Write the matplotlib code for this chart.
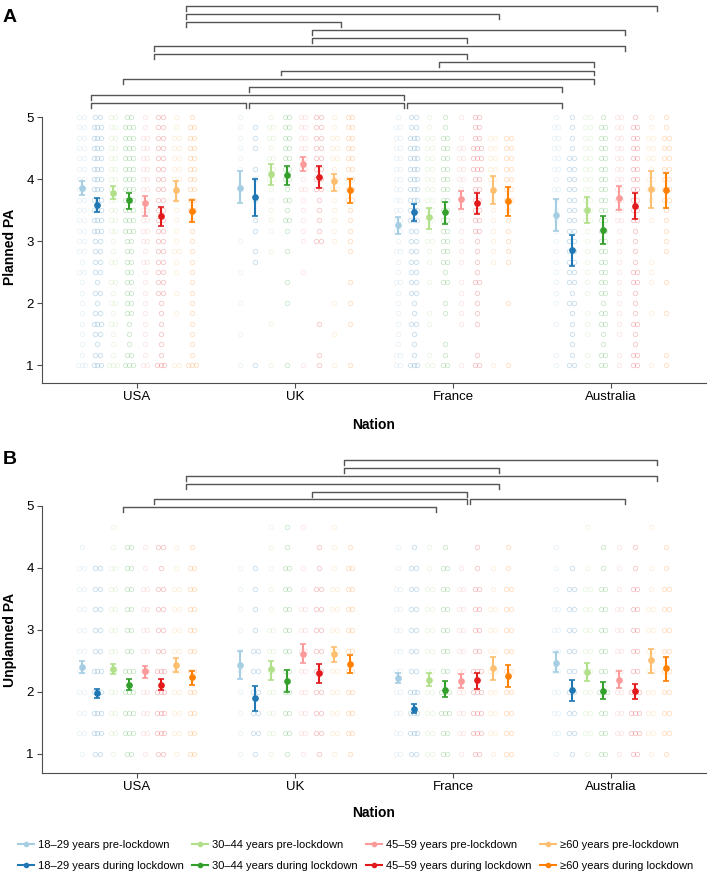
import numpy as np
import matplotlib
matplotlib.use("Agg")
from matplotlib import pyplot as plt
from matplotlib.lines import Line2D

plt.rcParams['font.family'] = ['Liberation Sans', 'DejaVu Sans']

# ---- dados ----
nations = ["USA", "UK", "France", "Australia"]
group_labels = [
    "18–29 years pre-lockdown", "18–29 years during lockdown",
    "30–44 years pre-lockdown", "30–44 years during lockdown",
    "45–59 years pre-lockdown", "45–59 years during lockdown",
    "≥60 years pre-lockdown", "≥60 years during lockdown",
]
colors = ["#A6CEE3", "#1F78B4", "#B2DF8A", "#33A02C",
          "#FB9A99", "#E31A1C", "#FDBF6F", "#FF7F00"]

# Planned PA: média e IC por grupo (ordem de group_labels)
planned_mean = {
    "USA":       [3.85, 3.58, 3.78, 3.66, 3.61, 3.41, 3.82, 3.49],
    "UK":        [3.86, 3.71, 4.08, 4.06, 4.24, 4.03, 3.96, 3.82],
    "France":    [3.26, 3.47, 3.38, 3.47, 3.67, 3.61, 3.83, 3.65],
    "Australia": [3.42, 2.85, 3.50, 3.18, 3.70, 3.57, 3.84, 3.82],
}
planned_lo = {
    "USA":       [3.74, 3.46, 3.68, 3.52, 3.41, 3.24, 3.64, 3.30],
    "UK":        [3.61, 3.40, 3.91, 3.91, 4.13, 3.85, 3.80, 3.61],
    "France":    [3.12, 3.33, 3.20, 3.28, 3.52, 3.44, 3.60, 3.41],
    "Australia": [3.16, 2.60, 3.29, 2.95, 3.50, 3.35, 3.54, 3.54],
}
planned_hi = {
    "USA":       [3.96, 3.70, 3.89, 3.77, 3.73, 3.55, 3.97, 3.66],
    "UK":        [4.13, 4.00, 4.24, 4.21, 4.35, 4.21, 4.08, 4.00],
    "France":    [3.38, 3.59, 3.54, 3.63, 3.81, 3.78, 4.05, 3.87],
    "Australia": [3.68, 3.09, 3.71, 3.41, 3.88, 3.77, 4.13, 4.09],
}

# Unplanned PA
unplanned_mean = {
    "USA":       [2.41, 1.99, 2.37, 2.12, 2.34, 2.11, 2.43, 2.24],
    "UK":        [2.44, 1.90, 2.37, 2.18, 2.62, 2.31, 2.61, 2.45],
    "France":    [2.22, 1.72, 2.19, 2.04, 2.18, 2.19, 2.38, 2.26],
    "Australia": [2.47, 2.04, 2.33, 2.02, 2.19, 2.01, 2.51, 2.38],
}
unplanned_lo = {
    "USA":       [2.31, 1.90, 2.29, 2.04, 2.22, 2.03, 2.33, 2.11],
    "UK":        [2.21, 1.69, 2.20, 2.00, 2.47, 2.15, 2.48, 2.31],
    "France":    [2.14, 1.66, 2.09, 1.92, 2.07, 2.05, 2.19, 2.08],
    "Australia": [2.32, 1.86, 2.18, 1.89, 2.06, 1.89, 2.31, 2.18],
}
unplanned_hi = {
    "USA":       [2.50, 2.05, 2.45, 2.21, 2.42, 2.21, 2.55, 2.34],
    "UK":        [2.66, 2.09, 2.50, 2.35, 2.77, 2.45, 2.73, 2.59],
    "France":    [2.30, 1.80, 2.30, 2.17, 2.29, 2.31, 2.56, 2.43],
    "Australia": [2.64, 2.20, 2.47, 2.16, 2.34, 2.13, 2.69, 2.57],
}

# respostas individuais: nº de círculos visíveis por nível (de 5 até 1)
planned_levels = [5 - k / 6 for k in range(25)]
planned_dots = {
    "USA": ["2222222222222212111111113", "2333333333332222121232123",
            "2222222222221120212121113", "2333333333332222222211123",
            "1122222222222121111111112", "2222222222222222221111113",
            "1122222111111211010100002", "1222222222111111111111113"],
    "UK": ["1111110000001001001001001", "0111011010110110000000001",
           "1221222111110100000010001", "2222222121210100101000001",
           "2222221211111001000000001", "2222222211112000000010011",
           "1122212211111000001001001", "2222222221111100101010001"],
    "France": ["1222222222221211211111122", "2233333333322222221121113",
               "1122222222212110100110012", "1122222222222221201100112",
               "1012222111111110111110001", "2223332222221111211110012",
               "0022222111111110000000001", "0022222221111110001000001"],
    "Australia": ["1222221211111111111010011", "1111222222222222212111112",
                  "2222222222211111110111011", "1222222222222222221221122",
                  "2222222222211111111111011", "1222222222211112211121122",
                  "1122212210100011100100001", "1122222221111100100100011"],
}
unplanned_levels = [5 - k / 3 for k in range(13)]
unplanned_dots = {
    "USA": ["0012222222221", "0002222233332", "0112222222221", "0022222233332",
            "0011222222221", "0021222233332", "0011222222221", "0012222222222"],
    "UK": ["0001111111111", "0001111222221", "0111112222221", "0112222222221",
           "0101122222221", "0011222222221", "0111222222221", "0012222222221"],
    "France": ["0011222222222", "0012222223332", "0011222222222", "0012222223322",
               "0001222222221", "0011222233332", "0001122222221", "0011222222222"],
    "Australia": ["0011122222221", "0001222222221", "0101222222221", "0011222223222",
                  "0011122222221", "0011222223332", "0101122222221", "0011222222221"],
}

# comparações significativas (nação, nação, faixa etária 1-4), de cima para baixo
planned_sig = [
    [("USA", "Australia", 4)], [("USA", "France", 4)], [("USA", "UK", 4)],
    [("UK", "Australia", 3)], [("UK", "France", 3)],
    [("USA", "Australia", 3)], [("USA", "France", 3)],
    [("France", "Australia", 2)], [("UK", "Australia", 2)], [("USA", "Australia", 2)],
    [("UK", "Australia", 1)], [("USA", "France", 1)],
    [("USA", "UK", 1), ("UK", "France", 1), ("France", "Australia", 1)],
]
unplanned_sig = [
    [("UK", "Australia", 4)], [("UK", "France", 4)],
    [("USA", "Australia", 4)], [("USA", "France", 4)],
    [("UK", "France", 3)],
    [("USA", "France", 3), ("France", "Australia", 3)],
    [("USA", "France", 2)],
]

# ---- figura ----
W, H = 709, 874
PPU = 62.0      # pixels por unidade no eixo y
XPU = 158.1     # pixels por unidade no eixo x
fig = plt.figure(figsize=(W / 100, H / 100), dpi=100)

axis_col = "#4d4d4d"
offsets = (np.arange(8) - 3.5) * 0.1
dot_shift = {1: [0.0], 2: [-2.2, 2.2], 3: [-3.8, 0.0, 3.8]}


def make_axes(top_px, bottom_px, y5_px):
    ax = fig.add_axes([42 / W, 1 - bottom_px / H, 664 / W, (bottom_px - top_px) / H])
    ylow = 5 - (bottom_px - y5_px) / PPU
    ytop = 5 + (y5_px - top_px) / PPU
    ax.set_ylim(ylow, ytop)
    ax.set_xlim(0.4, 4.6)
    ax.patch.set_alpha(0)
    for s in ["top", "right"]:
        ax.spines[s].set_visible(False)
    for s in ["left", "bottom"]:
        ax.spines[s].set_color(axis_col)
        ax.spines[s].set_linewidth(0.8)
    ax.spines["left"].set_bounds(ylow, 5)
    ax.set_xticks(range(1, 5))
    ax.set_xticklabels(nations)
    ax.set_yticks([1, 2, 3, 4, 5])
    ax.tick_params(length=3.5, width=0.8, color=axis_col, labelsize=9.5,
                   labelcolor="black", pad=2.5)
    return ax


def draw_panel(ax, levels, dots, mean, lo, hi, sig, sig_top, sig_step):
    for ni, nat in enumerate(nations):
        for gi in range(8):
            xc = ni + 1 + offsets[gi]
            xs, ys = [], []
            for li, c in enumerate(dots[nat][gi]):
                for sh in dot_shift.get(int(c), []):
                    xs.append(xc + sh / XPU)
                    ys.append(levels[li])
            ax.plot(xs, ys, "o", ms=3.2, mfc="none", mec=colors[gi],
                    mew=0.6, alpha=0.25, ls="none", zorder=1)
        for gi in range(8):
            xc = ni + 1 + offsets[gi]
            m = mean[nat][gi]
            ax.errorbar(xc, m, yerr=[[m - lo[nat][gi]], [hi[nat][gi] - m]],
                        fmt="o", color=colors[gi], ms=3.8, elinewidth=1.5,
                        capsize=2.2, capthick=1.2, zorder=3)
    for row, pairs in enumerate(sig):
        y = sig_top - row * sig_step
        for a, b, age in pairs:
            x1 = nations.index(a) + 1 + (age - 2.5) * 0.2 + 0.01
            x2 = nations.index(b) + 1 + (age - 2.5) * 0.2 - 0.01
            ax.plot([x1, x1, x2, x2], [y - 0.08, y, y, y - 0.08],
                    color="#555555", lw=1.0, zorder=2, clip_on=False)


axA = make_axes(0, 383, 117)
draw_panel(axA, planned_levels, planned_dots, planned_mean, planned_lo,
           planned_hi, planned_sig, 6.79, 0.13)

axB = make_axes(440, 773, 506)
draw_panel(axB, unplanned_levels, unplanned_dots, unplanned_mean,
           unplanned_lo, unplanned_hi, unplanned_sig, 5.74, 0.127)

# textos
fig.text(3 / W, 1 - 18 / H, "A", fontsize=14, fontweight="bold", va="center", ha="left")
fig.text(3 / W, 1 - 460 / H, "B", fontsize=14, fontweight="bold", va="center", ha="left")
fig.text(10 / W, 1 - 247 / H, "Planned PA", fontsize=10, fontweight="bold",
         rotation=90, va="center", ha="center")
fig.text(10 / W, 1 - 640 / H, "Unplanned PA", fontsize=10, fontweight="bold",
         rotation=90, va="center", ha="center")
fig.text(374 / W, 1 - 425 / H, "Nation", fontsize=10, fontweight="bold",
         va="center", ha="center")
fig.text(374 / W, 1 - 813 / H, "Nation", fontsize=10, fontweight="bold",
         va="center", ha="center")

handles = [Line2D([0], [0], color=c, lw=1.5, marker="o", ms=3) for c in colors]
fig.legend(handles, group_labels, loc="upper left",
           bbox_to_anchor=(18 / W, 1 - 840 / H), ncol=4, frameon=False,
           fontsize=8, handlelength=1.45, handletextpad=0.35,
           columnspacing=0.75, labelspacing=0.95, borderaxespad=0, borderpad=0)

fig.savefig("out.png", dpi=100)
